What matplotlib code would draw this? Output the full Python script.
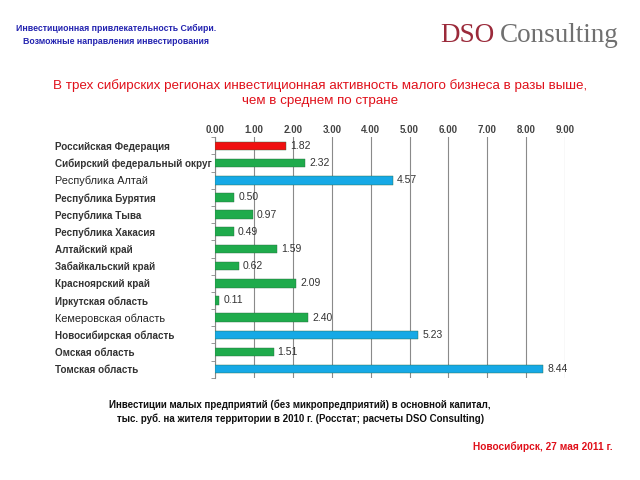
import matplotlib
matplotlib.use("Agg")
from matplotlib import pyplot as plt

plt.rcParams['font.family'] = ['Liberation Sans', 'DejaVu Sans']

# Investments per resident, thousand rub., 2010
regions = ["Российская Федерация", "Сибирский федеральный округ", "Республика Алтай",
           "Республика Бурятия", "Республика Тыва", "Республика Хакасия",
           "Алтайский край", "Забайкальский край", "Красноярский край",
           "Иркутская область", "Кемеровская область", "Новосибирская область",
           "Омская область", "Томская область"]
values = [1.82, 2.32, 4.57, 0.50, 0.97, 0.49, 1.59, 0.62, 2.09, 0.11, 2.40, 5.23, 1.51, 8.44]
groups = ["rf", "sfo", "top", "reg", "reg", "reg", "reg", "reg", "reg", "reg", "reg",
          "top", "reg", "top"]
group_colors = {"rf": "#f01010", "sfo": "#1fab4c", "reg": "#1fab4c", "top": "#16a9e6"}
plain_labels = ["Республика Алтай", "Кемеровская область"]
ticks = [0, 1, 2, 3, 4, 5, 6, 7, 8, 9]

fig = plt.figure(figsize=(6.4, 4.8), dpi=100)
ax = fig.add_axes([0.336, 0.213, 0.547, 0.501])

ypos = list(range(len(regions)))
ax.barh(ypos, values, height=0.5, color=[group_colors[g] for g in groups],
        edgecolor="#2a6a40", linewidth=0.3, zorder=3)
for y, v in zip(ypos, values):
    ax.text(v + 0.1, y, f"{v:.2f}", va="center", ha="left", fontsize=7.5,
            color="#333333")

ax.set_xlim(0, 9)
ax.set_ylim(len(regions) - 0.5, -0.5)
ax.set_xticks(ticks)
ax.set_xticklabels([f"{t:.2f}" for t in ticks], fontsize=7, fontweight="bold", color="#444444")
ax.xaxis.tick_top()
ax.tick_params(axis="x", length=0, pad=2)
ax.grid(axis="x", color="#8a8a8a", linewidth=0.8, zorder=0)

ax.set_yticks(ypos)
ax.set_yticklabels(regions, fontsize=7.1, fontweight="bold", color="#333333")
ax.set_yticks([y + 0.5 for y in ypos[:-1]] + [-0.5, len(regions) - 0.5], minor=True)
ax.tick_params(axis="y", which="major", length=0, pad=4)
ax.tick_params(axis="y", which="minor", length=3, color="#888888")
for lbl in ax.get_yticklabels():
    lbl.set_horizontalalignment("left")
    lbl.set_x(-0.44)
    if lbl.get_text() in plain_labels:
        lbl.set_fontweight("normal")
        lbl.set_fontsize(7.8)
        lbl.set_color("#222222")

for s in ["top", "right", "bottom"]:
    ax.spines[s].set_visible(False)
ax.spines["left"].set_color("#888888")

fig.text(0.181, 0.935, "Инвестиционная привлекательность Сибири.", color="#2323b0",
         fontsize=6.3, fontweight="bold", ha="center")
fig.text(0.181, 0.908, "Возможные направления инвестирования", color="#2323b0",
         fontsize=6.3, fontweight="bold", ha="center")

fig.text(0.6875, 0.913, "DSO", color="#9b2a3a", fontsize=19.5, family="Liberation Serif")
fig.text(0.781, 0.913, "Consulting", color="#707070", fontsize=19.5, family="Liberation Serif")

fig.text(0.5, 0.814, "В трех сибирских регионах инвестиционная активность малого бизнеса в разы выше,",
         color="#e0101a", fontsize=9.6, ha="center")
fig.text(0.5, 0.783, "чем в среднем по стране", color="#e0101a", fontsize=9.6, ha="center")

fig.text(0.469, 0.151, "Инвестиции малых предприятий (без микропредприятий) в основной капитал,",
         color="#111111", fontsize=7, fontweight="bold", ha="center")
fig.text(0.469, 0.121, "тыс. руб. на жителя территории в 2010 г. (Росстат; расчеты DSO Consulting)",
         color="#111111", fontsize=7, fontweight="bold", ha="center")

fig.text(0.958, 0.063, "Новосибирск, 27 мая 2011 г.", color="#e0101a", fontsize=7.3,
         fontweight="bold", ha="right")

fig.savefig("out.png", dpi=100)
